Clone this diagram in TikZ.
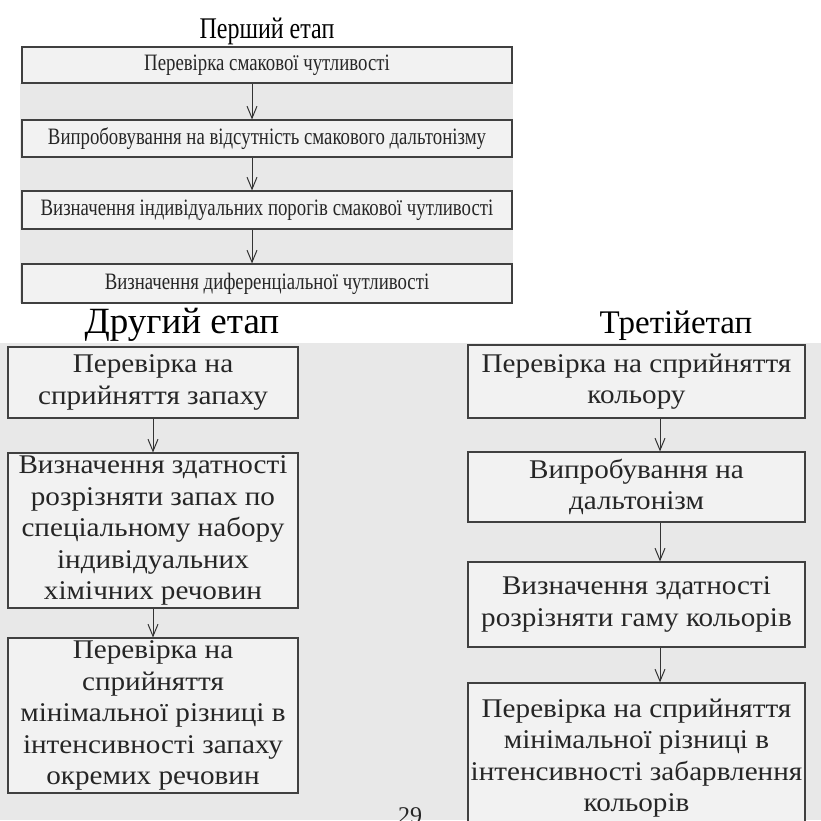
\documentclass[tikz,border=0pt]{standalone}
\usepackage{fontspec}
\setmainfont{Liberation Serif}
\newfontfamily\narrowserif[FakeStretch=0.8]{Liberation Serif}
\newfontfamily\broadserif[FakeStretch=1.08]{Liberation Serif}
\usetikzlibrary{arrows.meta}

\tikzset{
  stagebox/.style={draw=black!75, line width=1.1pt, fill=black!5, align=center,
    inner sep=0pt, text=black!85},
  wide/.style={stagebox, minimum width=490pt,
    font=\narrowserif\fontsize{23.5}{27}\selectfont},
  tall/.style={stagebox, font=\broadserif\fontsize{27}{31.5}\selectfont},
  stagetitle/.style={anchor=base, text=black},
  flow/.style={draw=black!80, line width=1pt, -{Straight Barb[length=12pt,width=10pt]}}
}

\begin{document}
\begin{tikzpicture}[x=1pt,y=-1pt]
  \useasboundingbox (0,0) rectangle (821,820);
  % scanned page background
  \fill[black!9] (20,83) rectangle (513,303);
  \fill[black!9] (0,343) rectangle (821,820);

  % first stage
  \node[stagetitle, font=\narrowserif\fontsize{30}{36}\selectfont] (t1) at (267,38) {Перший етап};
  \node[wide, minimum height=36pt] (s1a) at (267,65) {Перевірка смакової чутливості};
  \node[wide, minimum height=37pt] (s1b) at (267,138.5) {Випробовування на відсутність смакового дальтонізму};
  \node[wide, minimum height=38pt] (s1c) at (267,210) {Визначення індивідуальних порогів смакової чутливості};
  \node[wide, minimum height=39pt] (s1d) at (267,283.5) {Визначення диференціальної чутливості};
  \coordinate (ax1) at (252,0);
  \draw[flow] (s1a.south -| ax1) -- (s1b.north -| ax1);
  \draw[flow] (s1b.south -| ax1) -- (s1c.north -| ax1);
  \draw[flow] (s1c.south -| ax1) -- (s1d.north -| ax1);

  % second stage
  \node[stagetitle, font=\fontsize{37}{42}\selectfont] (t2) at (182,333) {Другий етап};
  \node[tall, minimum width=290pt, minimum height=71pt] (s2a) at (153,382.5) {Перевірка на\\сприйняття запаху};
  \node[tall, minimum width=290pt, minimum height=155pt] (s2b) at (153,530.5) {Визначення здатності\\розрізняти запах по\\спеціальному набору\\індивідуальних\\хімічних речовин};
  \node[tall, minimum width=290pt, minimum height=155pt] (s2c) at (153,715.5) {Перевірка на\\сприйняття\\мінімальної різниці в\\інтенсивності запаху\\окремих речовин};
  \draw[flow] (s2a) -- (s2b);
  \draw[flow] (s2b) -- (s2c);

  % third stage
  \node[stagetitle, font=\fontsize{33}{40}\selectfont] (t3) at (676,333) {Третійетап};
  \node[tall, minimum width=337pt, minimum height=73pt] (s3a) at (636.5,381.5) {Перевірка на сприйняття\\кольору};
  \node[tall, minimum width=337pt, minimum height=70pt] (s3b) at (636.5,487) {Випробування на\\дальтонізм};
  \node[tall, minimum width=337pt, minimum height=85pt] (s3c) at (636.5,604.5) {Визначення здатності\\розрізняти гаму кольорів};
  \node[tall, minimum width=337pt, minimum height=150pt] (s3d) at (636.5,758) {Перевірка на сприйняття\\мінімальної різниці в\\інтенсивності забарвлення\\кольорів};
  \coordinate (ax3) at (660,0);
  \draw[flow] (s3a.south -| ax3) -- (s3b.north -| ax3);
  \draw[flow] (s3b.south -| ax3) -- (s3c.north -| ax3);
  \draw[flow] (s3c.south -| ax3) -- (s3d.north -| ax3);

  % page number, cut by the page edge
  \node[anchor=base, font=\fontsize{24}{28}\selectfont, text=black!85] (pg) at (410,823) {29};
\end{tikzpicture}
\end{document}
